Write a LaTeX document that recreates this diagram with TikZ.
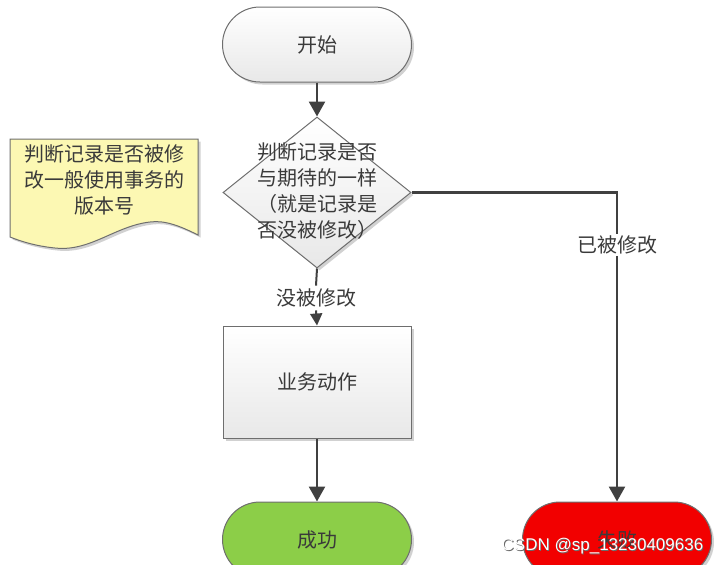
\documentclass[tikz,border=0pt]{standalone}
\usepackage{fontspec}
\setmainfont{Noto Sans CJK SC}
\newfontfamily\wmfont{Liberation Sans}
\usetikzlibrary{shapes.geometric,arrows.meta,shadows}
\definecolor{linec}{HTML}{404040}
\definecolor{borderc}{HTML}{6E6E6E}
\definecolor{textc}{HTML}{3A3A3A}
\definecolor{notefill}{HTML}{FCF8B3}
\definecolor{okgreen}{HTML}{8CCE48}
\definecolor{failred}{HTML}{F20000}
\definecolor{wmgray}{HTML}{6A6A6A}
\begin{document}
\begin{tikzpicture}[x=1pt,y=-1pt,
  every node/.style={font=\fontsize{20}{26}\selectfont, text=textc},
  shadowed/.style={drop shadow={shadow xshift=2.5pt, shadow yshift=-2.5pt, opacity=0.18, fill=black}},
  term/.style={draw=borderc, line width=1pt, rounded corners=37.5pt, minimum width=189pt, minimum height=75pt, shadowed},
  graybox/.style={top color=white, bottom color=black!9},
  taskbox/.style={draw=borderc, line width=1pt, minimum width=188pt, minimum height=112pt, graybox, shadowed},
  decision/.style={diamond, draw=borderc, line width=1pt, inner sep=0pt, minimum width=188pt, minimum height=151pt, graybox, shadowed},
  flow/.style={draw=linec, line width=2.6pt, -{Triangle[width=16pt,length=15pt]}},
  flowsmall/.style={draw=linec, line width=2pt, -{Triangle[width=12pt,length=12pt]}},
  plain/.style={draw=linec, line width=2.6pt},
  plainthin/.style={draw=linec, line width=2pt},
  edgelabel/.style={inner sep=1.5pt},
  wm/.style={font=\wmfont\fontsize{17}{20}\selectfont, inner sep=0pt}
]
\useasboundingbox (0,0) rectangle (718,565);

% note (document shape)
\path[draw=borderc, line width=1pt, fill=notefill, shadowed]
  (10,139) -- (198,139) -- (198,235)
  .. controls (180,226) and (165,220) .. (150,222)
  .. controls (115,226) and (90,252) .. (55,248)
  .. controls (35,246) and (20,241) .. (10,237) -- cycle;
\node[align=center] (notetext) at (104,180) {\fontsize{20}{27.5}\selectfont 判断记录是否被修\\改一般使用事务的\\版本号};

% nodes
\node[term, graybox] (start) at (317,44.5) {开始};
\node[decision] (dia) at (317,192.5) {};
\node[align=center] (diatext) at (317,191.5) {\fontsize{20}{25.7}\selectfont 判断记录是否\\与期待的一样\\（就是记录是\\否没被修改）};
\node[taskbox] (task) at (317,382) {业务动作};
\node[term, fill=okgreen] (ok) at (317,539.5) {成功};
\node[term, fill=failred] (fail) at (617,539.5) {失败};

% labels
\node[edgelabel, inner sep=3pt] (lab1) at (316,298) {没被修改};
\node[edgelabel] (lab2) at (617,245) {已被修改};
\coordinate (corner) at (fail.north |- dia.east);

% connectors
\draw[flow] (start) -- (dia.north);
\draw[plainthin] (dia.south) -- (lab1.north);
\draw[flowsmall] (lab1.south) -- (task.north);
\draw[flow] (task) -- (ok);
\draw[plain, line join=miter] (dia.east) -- (corner) -- (lab2.north);
\draw[flow] (lab2.south) -- (fail.north);

% watermark
\node[wm, text=wmgray] (wmshadow) at (603.3,546.8) {CSDN @sp\_13230409636};
\node[wm, text=white] (wmtext) at (602.5,546) {CSDN @sp\_13230409636};
\end{tikzpicture}
\end{document}
